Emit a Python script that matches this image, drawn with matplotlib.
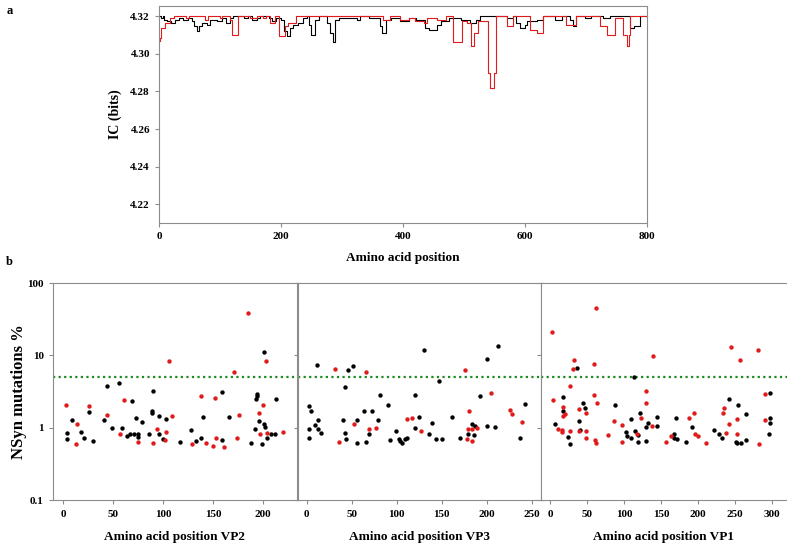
import numpy as np
import matplotlib
matplotlib.use("Agg")
import matplotlib.pyplot as plt

plt.rcParams['font.family'] = ['Liberation Serif', 'DejaVu Serif']
plt.rcParams['font.weight'] = 'bold'

# panel a: information content, step change points (position, bits)
black_pos = [0, 3, 6, 9, 13, 20, 26, 33, 40, 47, 54, 57, 62, 66, 70, 78, 84, 95, 103, 110, 116, 122,
             140, 146, 152, 160, 166, 180, 186, 192, 200, 205, 210, 214, 220, 228, 236, 242, 246, 250,
             256, 262, 275, 280, 286, 289, 295, 324, 330, 345, 362, 366, 372, 380, 395, 410, 422, 436,
             442, 455, 462, 475, 495, 510, 520, 526, 570, 581, 586, 592, 600, 603, 619, 630, 649, 660,
             674, 678, 684, 698, 709, 728, 739, 772, 778, 788, 800]
black_ic = [4.3200, 4.3191, 4.3200, 4.3182, 4.3173, 4.3165, 4.3182, 4.3191, 4.3182, 4.3191, 4.3173,
            4.3147, 4.3120, 4.3147, 4.3165, 4.3156, 4.3182, 4.3173, 4.3191, 4.3165, 4.3191, 4.3204,
            4.3191, 4.3204, 4.3182, 4.3191, 4.3204, 4.3191, 4.3173, 4.3191, 4.3182, 4.3120, 4.3093,
            4.3138, 4.3156, 4.3165, 4.3191, 4.3204, 4.3156, 4.3102, 4.3182, 4.3204, 4.3165, 4.3111,
            4.3061, 4.3182, 4.3191, 4.3182, 4.3204, 4.3191, 4.3147, 4.3111, 4.3182, 4.3191, 4.3173,
            4.3191, 4.3182, 4.3138, 4.3129, 4.3156, 4.3173, 4.3191, 4.3182, 4.3165, 4.3182, 4.3204,
            4.3191, 4.3204, 4.3165, 4.3138, 4.3156, 4.3173, 4.3182, 4.3204, 4.3182, 4.3204, 4.3182,
            4.3147, 4.3204, 4.3191, 4.3204, 4.3191, 4.3204, 4.3138, 4.3147, 4.3204, 4.3204]

red_pos = [0, 2, 4, 10, 18, 25, 45, 50, 75, 80, 100, 104, 116, 120, 130, 150, 160, 170, 176, 182, 190,
           196, 206, 212, 225, 368, 378, 395, 410, 420, 434, 440, 455, 470, 482, 496, 505, 512, 516,
           523, 540, 543, 550, 553, 570, 581, 608, 619, 630, 668, 684, 723, 734, 747, 761, 768, 771,
           772, 800]
red_ic = [4.3067, 4.3085, 4.3138, 4.3165, 4.3191, 4.3204, 4.3191, 4.3204, 4.3182, 4.3204, 4.3191,
          4.3204, 4.3182, 4.3102, 4.3204, 4.3191, 4.3204, 4.3191, 4.3204, 4.3165, 4.3204, 4.3093,
          4.3147, 4.3165, 4.3204, 4.3182, 4.3204, 4.3182, 4.3191, 4.3173, 4.3165, 4.3191, 4.3182,
          4.3204, 4.3061, 4.3173, 4.3165, 4.3044, 4.3111, 4.3173, 4.2900, 4.2820, 4.2900, 4.3204,
          4.3147, 4.3204, 4.3129, 4.3111, 4.3204, 4.3156, 4.3204, 4.3147, 4.3102, 4.3191, 4.3102,
          4.3040, 4.3102, 4.3204, 4.3191]

# panel b: NSyn mutation % per position
vp2_black_x = [4, 4, 9, 18, 21, 26, 30, 41, 44, 49, 56, 59, 64, 67, 69, 71, 73, 75, 75, 79, 86, 89, 89,
               90, 96, 96, 100, 103, 117, 128, 133, 138, 140, 159, 159, 166, 188, 192, 193, 194, 194,
               196, 199, 201, 202, 201, 204, 208, 212, 213]
vp2_black_y = [0.85, 0.70, 1.28, 0.87, 0.73, 1.65, 0.65, 1.28, 3.71, 1.00, 4.13, 1.00, 0.77, 0.82, 2.35,
               0.82, 1.36, 0.82, 0.75, 1.19, 0.81, 1.69, 1.58, 3.23, 1.45, 0.82, 0.70, 1.32, 0.63, 0.94,
               0.66, 0.73, 1.42, 3.13, 0.68, 1.42, 0.61, 0.97, 2.50, 2.70, 2.94, 1.25, 0.59, 1.14, 1.03,
               11.0, 0.73, 0.83, 0.82, 2.50]
vp2_red_x = [3, 13, 14, 26, 44, 57, 61, 75, 90, 94, 102, 103, 106, 109, 129, 138, 143, 150, 152, 153,
             161, 171, 174, 176, 185, 196, 197, 200, 203, 204, 220]
vp2_red_y = [2.04, 0.59, 1.14, 2.00, 1.48, 0.83, 2.42, 0.63, 0.61, 0.95, 0.68, 0.87, 8.26, 1.44, 0.59,
             2.75, 0.62, 0.56, 2.61, 0.73, 0.54, 5.81, 0.72, 1.48, 39.1, 1.62, 0.82, 2.09, 8.26, 0.85,
             0.86]

vp3_black_x = [3, 5, 3, 3, 9, 11, 13, 13, 16, 40, 42, 43, 44, 46, 51, 56, 56, 64, 66, 69, 73, 79, 81,
               90, 93, 99, 102, 104, 106, 109, 111, 120, 120, 125, 130, 136, 139, 144, 147, 150, 161,
               170, 179, 184, 186, 187, 192, 200, 200, 209, 213, 237, 242]
vp3_black_y = [1.98, 1.72, 0.95, 0.71, 1.08, 7.42, 1.29, 0.95, 0.85, 1.28, 3.67, 0.85, 0.69, 6.19, 7.18,
               0.62, 1.26, 1.69, 0.64, 0.82, 1.72, 1.29, 2.84, 2.04, 0.67, 0.89, 0.69, 0.65, 0.61, 0.70,
               0.73, 2.81, 0.98, 1.39, 12.0, 0.83, 1.17, 0.70, 4.35, 0.70, 1.39, 0.73, 0.82, 1.14, 0.80,
               1.07, 2.75, 1.07, 9.0, 1.01, 13.3, 0.72, 2.13]
vp3_red_x = [31, 36, 52, 66, 69, 77, 111, 117, 127, 176, 178, 180, 179, 184, 184, 189, 205, 226, 228, 239]
vp3_red_y = [6.46, 0.64, 1.12, 5.87, 0.96, 0.99, 1.33, 1.38, 0.89, 6.19, 0.70, 1.72, 0.95, 0.95, 0.65,
             1.00, 3.06, 1.78, 1.55, 1.20]

vp1_black_x = [7, 17, 18, 24, 27, 37, 39, 40, 45, 47, 88, 103, 104, 110, 110, 113, 115, 119, 119, 122,
               129, 130, 133, 144, 144, 167, 168, 170, 172, 183, 192, 221, 228, 232, 241, 251, 253, 254,
               258, 264, 264, 296, 297, 297, 297]
vp1_black_y = [1.11, 2.67, 1.72, 0.75, 0.59, 6.74, 1.25, 0.93, 2.18, 1.90, 2.06, 0.86, 0.77, 1.31, 0.73,
               5.00, 0.91, 0.78, 0.63, 1.60, 0.65, 1.01, 1.16, 1.05, 1.39, 0.73, 0.82, 1.35, 0.70, 0.64,
               1.01, 0.92, 0.82, 0.72, 2.47, 0.64, 0.62, 2.06, 0.61, 1.53, 0.67, 0.83, 1.15, 1.35, 3.00]
vp1_red_x = [3, 4, 11, 16, 16, 18, 18, 21, 27, 27, 31, 32, 39, 39, 49, 49, 49, 59, 60, 61, 62, 62, 63,
             79, 87, 97, 97, 117, 123, 129, 130, 138, 139, 157, 164, 187, 195, 196, 200, 210, 234, 235,
             237, 241, 244, 252, 253, 257, 281, 282, 290, 290]
vp1_red_y = [20.9, 2.42, 0.95, 0.93, 0.87, 1.45, 1.96, 1.55, 3.71, 0.91, 6.53, 8.71, 1.80, 0.91, 0.89,
             1.62, 0.72, 7.50, 2.87, 0.67, 45.4, 0.62, 2.18, 0.79, 1.24, 1.08, 0.63, 0.81, 1.36, 3.23,
             2.22, 1.05, 9.68, 0.63, 0.77, 1.35, 1.62, 0.83, 0.77, 0.62, 1.58, 1.88, 0.85, 1.12, 12.9,
             0.82, 1.32, 8.6, 11.7, 0.59, 2.94, 1.29]

cutoff = 5
red = '#e01b1b'
frame = '#8c8c8c'

fig = plt.figure(figsize=(7.87, 5.47), dpi=100)

# ---- panel a ----
ax = fig.add_axes([0.2020, 0.5923, 0.6201, 0.3967])
ax.step(black_pos, black_ic, where='post', color='black', lw=0.8)
ax.step(red_pos, red_ic, where='post', color=red, lw=0.8)
ax.set_xlim(0, 800)
ax.set_ylim(4.21, 4.3255)
ax.set_xticks([0, 200, 400, 600, 800])
ax.set_yticks([4.22, 4.24, 4.26, 4.28, 4.30, 4.32])
ax.set_yticklabels(['%.2f' % v for v in [4.22, 4.24, 4.26, 4.28, 4.30, 4.32]])
ax.set_xlabel('Amino acid position', fontsize=9.5, fontweight='bold', labelpad=8)
ax.set_ylabel('IC (bits)', fontsize=10, fontweight='bold', labelpad=6)
for s in ax.spines.values():
    s.set_color(frame)
ax.tick_params(labelsize=8, color=frame, length=3, width=0.8)
fig.text(0.008, 0.975, 'a', fontsize=9, fontweight='bold')
fig.text(0.008, 0.515, 'b', fontsize=9, fontweight='bold')

# ---- panel b ----
panels = [
    ([0.0670, 0.0859, 0.3100, 0.3967], (-10.6, 233.4), [0, 50, 100, 150, 200],
     vp2_black_x, vp2_black_y, vp2_red_x, vp2_red_y, 'Amino acid position VP2'),
    ([0.3783, 0.0859, 0.3088, 0.3967], (-10, 260), [0, 50, 100, 150, 200, 250],
     vp3_black_x, vp3_black_y, vp3_red_x, vp3_red_y, 'Amino acid position VP3'),
    ([0.6870, 0.0859, 0.3126, 0.3967], (-12.5, 319.5), [0, 50, 100, 150, 200, 250, 300],
     vp1_black_x, vp1_black_y, vp1_red_x, vp1_red_y, 'Amino acid position VP1'),
]
for i, (rect, xlim, xt, bx, by, rx, ry, lab) in enumerate(panels):
    bx_ = fig.add_axes(rect)
    bx_.scatter(bx, by, s=10, color='black', zorder=3, linewidths=0)
    bx_.scatter(rx, ry, s=10, color=red, zorder=3, linewidths=0)
    bx_.axhline(cutoff, color='#1f8a1f', ls=(0, (1, 1.5)), lw=1.6, zorder=2)
    bx_.set_yscale('log')
    bx_.set_ylim(0.1, 100)
    bx_.set_xlim(*xlim)
    bx_.set_xticks(xt)
    bx_.set_yticks([0.1, 1, 10, 100])
    bx_.minorticks_off()
    bx_.set_xlabel(lab, fontsize=9.5, fontweight='bold', labelpad=9)
    for s in bx_.spines.values():
        s.set_color(frame)
    bx_.tick_params(axis='x', labelsize=8, color=frame, length=3, width=0.8, pad=4)
    bx_.tick_params(axis='y', labelsize=8, color=frame, length=3, width=0.8, right=True)
    if i == 0:
        bx_.set_yticklabels(['0.1', '1', '10', '100'])
        bx_.set_ylabel('NSyn mutations %', fontsize=12, fontweight='bold', labelpad=0)
    else:
        bx_.set_yticklabels([])
    if i == 2:
        bx_.spines['right'].set_visible(False)

fig.savefig('out.png', dpi=100)
